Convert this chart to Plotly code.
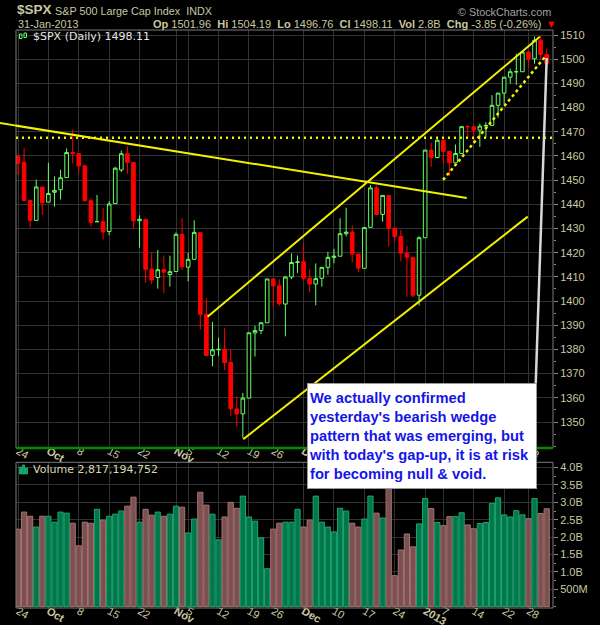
import plotly.graph_objects as go

# ---------------- data ----------------
dates = ["2012-09-24","2012-09-25","2012-09-26","2012-09-27","2012-09-28",
         "2012-10-01","2012-10-02","2012-10-03","2012-10-04","2012-10-05","2012-10-08","2012-10-09","2012-10-10",
         "2012-10-11","2012-10-12","2012-10-15","2012-10-16","2012-10-17","2012-10-18","2012-10-19","2012-10-22",
         "2012-10-23","2012-10-24","2012-10-25","2012-10-26","2012-10-31",
         "2012-11-01","2012-11-02","2012-11-05","2012-11-06","2012-11-07","2012-11-08","2012-11-09","2012-11-12",
         "2012-11-13","2012-11-14","2012-11-15","2012-11-16","2012-11-19","2012-11-20","2012-11-21","2012-11-23",
         "2012-11-26","2012-11-27","2012-11-28","2012-11-29","2012-11-30",
         "2012-12-03","2012-12-04","2012-12-05","2012-12-06","2012-12-07","2012-12-10","2012-12-11","2012-12-12",
         "2012-12-13","2012-12-14","2012-12-17","2012-12-18","2012-12-19","2012-12-20","2012-12-21","2012-12-24",
         "2012-12-26","2012-12-27","2012-12-28","2012-12-31",
         "2013-01-02","2013-01-03","2013-01-04","2013-01-07","2013-01-08","2013-01-09","2013-01-10","2013-01-11",
         "2013-01-14","2013-01-15","2013-01-16","2013-01-17","2013-01-18","2013-01-22","2013-01-23","2013-01-24",
         "2013-01-25","2013-01-28","2013-01-29","2013-01-30","2013-01-31"]

opens = [1459.76,1457.38,1441.60,1433.36,1447.13,
         1440.90,1444.99,1446.05,1451.08,1461.40,1460.93,1455.90,1441.48,1432.82,1432.84,1428.75,1440.31,1454.22,
         1460.94,1457.34,1433.21,1433.74,1413.20,1409.74,1412.97,1410.99,
         1412.20,1427.59,1414.02,1417.26,1428.27,1394.53,1377.55,1379.86,1380.03,1374.64,1355.41,1353.36,1359.88,
         1386.82,1387.79,1391.03,1409.15,1406.29,1398.77,1409.96,1415.95,
         1416.34,1409.46,1407.05,1409.43,1413.95,1418.07,1418.55,1427.84,1428.48,1419.45,1413.54,1430.47,1446.79,
         1435.81,1443.67,1430.15,1426.66,1419.83,1418.10,1402.43,
         1426.19,1462.42,1459.37,1466.47,1461.89,1457.15,1461.02,1472.12,1472.05,1470.67,1472.33,1472.63,1480.95,
         1485.98,1492.56,1494.81,1494.82,1502.96,1500.18,1507.84,1501.96]
highs = [1460.72,1463.24,1441.60,1450.20,1447.13,
         1457.14,1451.52,1454.30,1463.14,1470.96,1460.93,1455.90,1442.52,1443.90,1438.43,1441.31,1455.51,1462.20,
         1464.02,1457.34,1435.46,1433.74,1420.04,1421.12,1418.82,1418.76,
         1428.35,1434.27,1419.90,1433.38,1428.27,1401.23,1391.39,1384.87,1388.81,1380.13,1360.62,1362.03,1386.89,
         1389.77,1391.25,1409.16,1409.15,1409.01,1410.31,1419.70,1418.86,
         1423.73,1413.14,1415.56,1413.95,1420.34,1421.64,1434.27,1438.59,1431.36,1419.45,1430.67,1448.00,1447.75,
         1443.70,1443.67,1430.15,1429.42,1422.80,1418.10,1426.74,
         1462.43,1465.47,1467.94,1466.47,1461.89,1464.73,1472.30,1472.75,1472.05,1473.31,1473.96,1485.16,1485.98,
         1492.56,1496.13,1502.27,1503.26,1503.23,1509.35,1509.94,1504.19]
lows = [1452.06,1441.59,1430.53,1433.36,1435.60,
        1440.90,1439.01,1441.99,1451.08,1456.89,1453.10,1441.18,1430.64,1432.82,1425.53,1427.24,1440.31,1453.35,
        1452.63,1429.85,1422.06,1407.56,1407.10,1405.14,1403.28,1405.95,
        1412.20,1412.91,1408.13,1417.26,1388.14,1377.51,1373.03,1377.19,1371.39,1352.50,1348.05,1343.35,1359.88,
        1377.04,1386.39,1391.03,1397.68,1398.03,1385.43,1409.04,1411.63,
        1408.46,1403.65,1398.23,1405.93,1410.90,1415.64,1418.55,1426.76,1416.00,1411.88,1413.54,1430.47,1435.80,
        1432.82,1422.58,1424.66,1416.43,1401.80,1401.58,1398.11,
        1426.19,1455.53,1458.99,1456.62,1451.64,1457.15,1461.02,1467.58,1465.69,1463.76,1467.60,1472.63,1475.81,
        1481.16,1489.90,1489.46,1494.82,1496.33,1498.09,1500.11,1496.76]
closes = [1456.89,1441.59,1433.32,1447.15,1440.67,
          1444.49,1445.75,1450.99,1461.40,1460.93,1455.88,1441.48,1432.56,1432.84,1428.59,1440.13,1454.92,1460.91,
          1457.34,1433.19,1433.82,1413.11,1408.75,1412.97,1411.94,1412.16,
          1427.59,1414.20,1417.26,1428.39,1394.53,1377.51,1379.85,1380.03,1374.53,1355.49,1353.33,1359.88,1386.89,
          1387.81,1391.03,1409.15,1406.29,1398.94,1409.93,1415.95,1416.18,
          1409.46,1407.05,1409.28,1413.94,1418.07,1418.55,1427.84,1428.48,1419.45,1413.58,1430.36,1446.79,1435.81,
          1443.69,1430.15,1426.66,1419.83,1418.10,1402.43,1426.19,
          1462.42,1459.37,1466.47,1461.89,1457.15,1461.02,1472.12,1472.05,1470.68,1472.34,1472.63,1480.94,1485.98,
          1492.56,1494.81,1494.82,1502.96,1500.18,1507.84,1501.96,1498.11]

# volume in billions of shares
volumes_b = [2.23,2.72,2.60,2.29,2.60,
             2.60,2.43,2.72,2.69,2.40,1.75,2.43,2.40,2.80,2.49,2.60,2.66,2.75,2.89,3.15,2.43,2.80,2.63,2.72,2.60,2.66,
             2.89,2.86,2.12,2.52,3.29,2.92,2.66,1.92,2.58,3.00,2.83,3.18,2.58,2.46,1.98,1.09,2.23,2.40,2.43,2.43,2.80,
             2.29,2.49,3.18,2.43,2.29,2.15,2.83,2.75,2.40,2.29,2.52,3.18,2.69,2.55,3.60,0.89,1.63,2.09,1.72,2.38,
             3.11,2.82,2.42,2.33,2.59,2.59,2.70,2.35,2.24,2.39,2.42,2.97,3.13,2.64,2.58,2.76,2.64,2.53,3.11,2.68,2.817]

tick_dates = ["2012-09-24","2012-10-01","2012-10-08","2012-10-15","2012-10-22","2012-11-01","2012-11-05",
              "2012-11-12","2012-11-19","2012-11-26","2012-12-03","2012-12-10","2012-12-17","2012-12-24",
              "2013-01-02","2013-01-07","2013-01-14","2013-01-22","2013-01-28"]
tick_labels = ["24","<b>Oct</b>","8","15","22","<b>Nov</b>","5","12","19","26","<b>Dec</b>","10","17","24",
               "<b>2013</b>","7","14","22","28"]

price_ticks = [1350,1360,1370,1380,1390,1400,1410,1420,1430,1440,1450,1460,1470,1480,1490,1500,1510]
vol_ticks = [0.5,1.0,1.5,2.0,2.5,3.0,3.5,4.0]
vol_tick_labels = ["500M","1.0B","1.5B","2.0B","2.5B","3.0B","3.5B","4.0B"]

# hand-drawn annotation lines, as (trading-day index, price)
resistance_line = [(-2.96, 1473.6), (73.85, 1442.6)]
channel_upper = [(31.2, 1393.5), (85.86, 1509.3)]
channel_lower = [(37.06, 1342.9), (83.88, 1434.9)]
wedge_support = [(69.95, 1450.1), (86.68, 1500.8)]
horizontal_level = 1467.5
callout_pointer = [(85.2, 1366.1), (87.0, 1500.5)]

callout_text = ("We actually confirmed<br>yesterday's bearish wedge<br>pattern that was emerging, but<br>"
                "with today's gap-up, it is at risk<br>for becoming null &amp; void.")

# ---------------- layout constants ----------------
X_RANGE = [-0.33, 88.04]
P_RANGE = [1339.25, 1512.07]
V_RANGE = [-0.04, 4.153]
PRICE_DOMAIN = [0.2768, 1.0]
VOL_DOMAIN = [0.0, 0.2521]
W, H = 600, 625
ML, MR, MT, MB = 16, 47, 30, 17
PW, PH = W - ML - MR, H - MT - MB

TXT = '#c8c8a0'
GRID = '#323232'
FRAME = '#7a7a7a'
YEL = '#f2f200'


def px_x(px):
    return (px - ML) / PW


def px_y(py):
    return (H - MB - py) / PH


def paper_x(i):
    return (i - X_RANGE[0]) / (X_RANGE[1] - X_RANGE[0])


def paper_y(p):
    return PRICE_DOMAIN[0] + (p - P_RANGE[0]) / (P_RANGE[1] - P_RANGE[0]) * (PRICE_DOMAIN[1] - PRICE_DOMAIN[0])


idx = list(range(len(dates)))
tickvals = [dates.index(d) for d in tick_dates]
up = [c >= o for o, c in zip(opens, closes)]

fig = go.Figure()
fig.add_trace(go.Candlestick(
    x=idx, open=opens, high=highs, low=lows, close=closes,
    increasing=dict(line=dict(color='#66ff66', width=1), fillcolor='#000000'),
    decreasing=dict(line=dict(color='#ff0000', width=1), fillcolor='#ff0000'),
    xaxis='x', yaxis='y', showlegend=False, hoverinfo='skip'))

fig.add_trace(go.Bar(
    x=idx, y=volumes_b, width=0.86,
    marker=dict(color=['#00784c' if u else '#7a5050' for u in up],
                line=dict(color=['#1fa46e' if u else '#a87272' for u in up], width=1)),
    xaxis='x2', yaxis='y2', showlegend=False, hoverinfo='skip'))

xcommon = dict(range=X_RANGE, tickmode='array', tickvals=tickvals, ticktext=tick_labels, automargin=False,
               showgrid=True, gridcolor=GRID, gridwidth=1, zeroline=False, showline=False, ticks='',
               ticklabelstandoff=-6,
               tickfont=dict(size=11, color=TXT, family='Liberation Sans, Arial, sans-serif'),
               fixedrange=True)

shapes = []
# panel frames
for xr, yr in (('x domain', 'y domain'), ('x2 domain', 'y2 domain')):
    shapes.append(dict(type='rect', xref=xr, yref=yr, x0=0, x1=1, y0=0, y1=1,
                       line=dict(color=FRAME, width=1), layer='above'))
shapes.append(dict(type='line', xref='x domain', yref='y domain', x0=0, x1=1, y0=0, y1=0,
                   line=dict(color='#008a00', width=2.5), layer='above'))


def seg(pts, color, width, dash='solid'):
    (x0, y0), (x1, y1) = pts
    return dict(type='line', xref='x', yref='y', x0=x0, y0=y0, x1=x1, y1=y1,
                line=dict(color=color, width=width, dash=dash), layer='above')


shapes.append(seg(resistance_line, YEL, 2))
# continuation of the resistance line into the left margin (not clipped)
(r0x, r0p), (r1x, r1p) = resistance_line
slope = (r1p - r0p) / (r1x - r0x)
p_at_left = r0p + slope * (X_RANGE[0] - r0x)
shapes.append(dict(type='line', xref='paper', yref='paper', x0=paper_x(r0x), y0=paper_y(r0p),
                   x1=0, y1=paper_y(p_at_left), line=dict(color=YEL, width=2), layer='above'))
shapes.append(seg(channel_upper, YEL, 2))
shapes.append(seg(channel_lower, YEL, 2))
shapes.append(seg(wedge_support, YEL, 2.5, dash='3px,3px'))
shapes.append(dict(type='line', xref='x domain', yref='y', x0=0, x1=1, y0=horizontal_level, y1=horizontal_level,
                   line=dict(color=YEL, width=2.5, dash='2px,4px'), layer='above'))
shapes.append(seg(callout_pointer, '#d8d8d8', 2.5))


# little legend icons
def prect(x0, y0, x1, y1, color, fill):
    return dict(type='rect', xref='paper', yref='paper', x0=px_x(x0), x1=px_x(x1), y0=px_y(y1), y1=px_y(y0),
                line=dict(color=color, width=1), fillcolor=fill, layer='above')


shapes += [prect(19.5, 34, 22, 38.5, '#66ff66', 'rgba(0,0,0,0)'),
           prect(24, 33, 26.5, 37.5, '#66ff66', 'rgba(0,0,0,0)'),
           prect(19.5, 467, 21.5, 474, '#1fa46e', '#00a060'),
           prect(22.5, 465, 24.5, 474, '#1fa46e', '#00a060'),
           prect(25.5, 468, 27.5, 474, '#1fa46e', '#00a060')]

FONT = 'Liberation Sans, Arial, sans-serif'


def ann(text, x, y, xanchor='left', size=11, color=TXT, family=FONT, **kw):
    return dict(text=text, xref='paper', yref='paper', x=px_x(x), y=px_y(y), xanchor=xanchor,
                yanchor='middle', showarrow=False, font=dict(size=size, color=color, family=family), **kw)


annotations = [
    ann('<b>$SPX</b>', 15, 10, size=13.5),
    ann('S&amp;P 500 Large Cap Index&nbsp; INDX', 52.5, 10.5, size=10.8),
    ann('31-Jan-2013', 15.5, 24, size=10.8),
    ann('<b>Op</b> 1501.96  <b>Hi</b> 1504.19  <b>Lo</b> 1496.76  <b>Cl</b> 1498.11  <b>Vol</b> 2.8B  '
        '<b>Chg</b> -3.85 (-0.26%)', 544, 24, xanchor='right', size=11),
    ann('▼', 551, 24, xanchor='center', size=8, color='#ff0000', family='DejaVu Sans'),
    ann('© StockCharts.com', 553, 11.5, xanchor='right', size=10.8, color='#a0a0a0'),
    ann('$SPX (Daily) 1498.11', 31, 36, size=11, color='#e6e6e6', family='DejaVu Sans'),
    ann('Volume 2,817,194,752', 31, 469.5, size=11, color='#d8d8b0', family='DejaVu Sans'),
    dict(text=callout_text, xref='paper', yref='paper', x=px_x(307), y=px_y(383), xanchor='left', yanchor='top',
         showarrow=False, align='left', valign='middle', width=226, height=102,
         bgcolor='#ffffff', bordercolor='#9a9a9a', borderwidth=1, borderpad=1,
         font=dict(size=14.7, color='#1515e8', family=FONT, weight='bold')),
]

fig.update_layout(
    width=W, height=H, margin=dict(l=ML, r=MR, t=MT, b=MB, pad=0, autoexpand=False),
    paper_bgcolor='#000000', plot_bgcolor='#000000',
    font=dict(family=FONT, color=TXT),
    showlegend=False, boxgap=0.15, bargap=0,
    xaxis=dict(domain=[0, 1], anchor='y', rangeslider=dict(visible=False), **xcommon),
    xaxis2=dict(domain=[0, 1], anchor='y2', **xcommon),
    yaxis=dict(domain=PRICE_DOMAIN, anchor='x', side='right', range=P_RANGE, tickmode='array',
               tickvals=price_ticks, showgrid=True, gridcolor=GRID, zeroline=False, showline=False,
               ticks='outside', ticklen=4, tickcolor='#8a8a8a', tickwidth=1, automargin=False,
               tickfont=dict(size=11, color=TXT, family=FONT),
               minor=dict(dtick=5, tick0=1345, ticks='outside', ticklen=2, tickcolor='#8a8a8a', showgrid=False),
               fixedrange=True),
    yaxis2=dict(domain=VOL_DOMAIN, anchor='x2', side='right', range=V_RANGE, tickmode='array',
                tickvals=vol_ticks, ticktext=vol_tick_labels, showgrid=True, gridcolor=GRID, zeroline=False,
                showline=False, ticks='outside', ticklen=4, tickcolor='#8a8a8a', tickwidth=1, automargin=False,
                tickfont=dict(size=11, color=TXT, family=FONT),
                minor=dict(dtick=0.25, tick0=0, ticks='outside', ticklen=2, tickcolor='#8a8a8a', showgrid=False),
                fixedrange=True),
    shapes=shapes, annotations=annotations,
)

fig.write_html("out.html", config={'displayModeBar': False, 'staticPlot': True})
